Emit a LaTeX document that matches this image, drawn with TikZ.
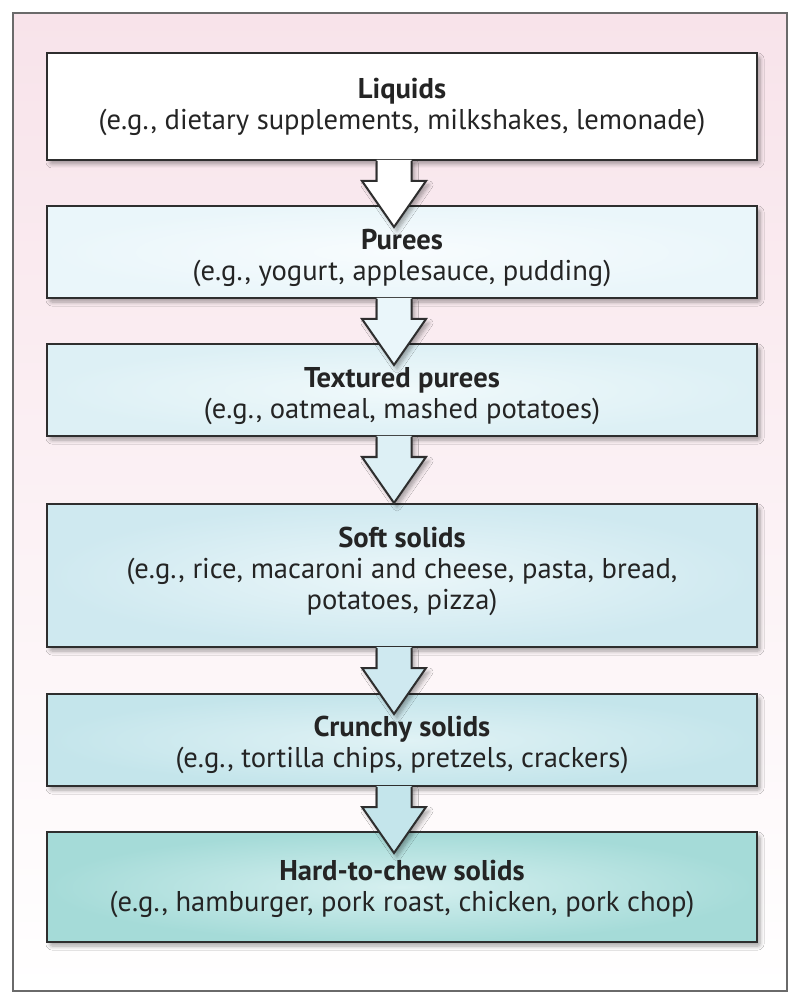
\documentclass[tikz,border=0pt]{standalone}
\usepackage{fontspec}
\setmainfont{PT Sans}
\usetikzlibrary{calc,shadows.blur}

\definecolor{bgpink}{HTML}{F8E3EA}
\definecolor{framegray}{HTML}{6A6A6A}
\definecolor{linegray}{HTML}{2E2E2E}
\definecolor{txt}{HTML}{242424}
\definecolor{lvlAin}{HTML}{FFFFFF}\definecolor{lvlAout}{HTML}{FFFFFF}
\definecolor{lvlBin}{HTML}{F8FCFE}\definecolor{lvlBout}{HTML}{EAF6FA}
\definecolor{lvlCin}{HTML}{F0F9FB}\definecolor{lvlCout}{HTML}{DDF0F5}
\definecolor{lvlDin}{HTML}{EAF6F9}\definecolor{lvlDout}{HTML}{CFE9F0}
\definecolor{lvlEin}{HTML}{E0F2F5}\definecolor{lvlEout}{HTML}{C4E5EB}
\definecolor{lvlFin}{HTML}{D6F0F0}\definecolor{lvlFout}{HTML}{A5DBD8}

\tikzset{
  foodbox/.style={draw=linegray, line width=1pt, minimum width=355pt,
    blur shadow={shadow xshift=1.5pt, shadow yshift=-2pt, shadow blur steps=6,
      shadow blur extra rounding=1pt, shadow opacity=35}},
  foodtext/.style={anchor=north, inner sep=0pt, align=center, text=txt,
    font=\fontsize{14.3}{15.5}\selectfont},
  arrowline/.style={draw=linegray, line width=1pt, line join=miter},
}

\begin{document}
\begin{tikzpicture}[x=0.5pt,y=-0.5pt]
    \useasboundingbox (0,0) rectangle (800,1004);

    \shade[top color=bgpink, bottom color=white] (13,13) rectangle (787,991);
    \draw[framegray, line width=1pt] (13,13) rectangle (787,991);

    \node[foodbox, minimum height=53.5pt, inner color=lvlAin, outer color=lvlAout] (liquids) at (402,106.5) {};
    \node[foodbox, minimum height=46pt, inner color=lvlBin, outer color=lvlBout] (purees) at (402,252) {};
    \node[foodbox, minimum height=46pt, inner color=lvlCin, outer color=lvlCout] (textured) at (402,390) {};
    \node[foodbox, minimum height=71.5pt, inner color=lvlDin, outer color=lvlDout] (soft) at (402,575.5) {};
    \node[foodbox, minimum height=46pt, inner color=lvlEin, outer color=lvlEout] (crunchy) at (402,740) {};
    \node[foodbox, minimum height=55pt, inner color=lvlFin, outer color=lvlFout] (hard) at (402,887) {};

    % block arrows between the levels
    \foreach \from/\col in {liquids/lvlAout, purees/lvlBout, textured/lvlCout, soft/lvlDout, crunchy/lvlEout}
    {
        \coordinate (top) at ($(\from.south)+(-8,0)$);
        \fill[\col, blur shadow={shadow xshift=1.5pt, shadow yshift=-2pt, shadow blur steps=6, shadow opacity=35}]
            ($(top)+(-17.5,-1)$) -- ++(0,21) -- ++(-14.5,0) -- ++(32,46) -- ++(32,-46) -- ++(-14.5,0) -- ++(0,-21) -- cycle;
        \draw[arrowline] ($(top)+(-17.5,0)$) -- ++(0,20) -- ++(-14.5,0) -- ++(32,46) -- ++(32,-46) -- ++(-14.5,0) -- ++(0,-20);
    }

    \node[foodtext] (liquidsText) at ($(liquids.north)+(0,26)$)
        {\textbf{Liquids}\\(e.g., dietary supplements, milkshakes, lemonade)};
    \node[foodtext] (pureesText) at ($(purees.north)+(0,24)$)
        {\textbf{Purees}\\(e.g., yogurt, applesauce, pudding)};
    \node[foodtext] (texturedText) at ($(textured.north)+(0,24)$)
        {\textbf{Textured purees}\\(e.g., oatmeal, mashed potatoes)};
    \node[foodtext] (softText) at ($(soft.north)+(0,24)$)
        {\textbf{Soft solids}\\(e.g., rice, macaroni and cheese, pasta, bread,\\potatoes, pizza)};
    \node[foodtext] (crunchyText) at ($(crunchy.north)+(0,23)$)
        {\textbf{Crunchy solids}\\(e.g., tortilla chips, pretzels, crackers)};
    \node[foodtext] (hardText) at ($(hard.north)+(0,29)$)
        {\textbf{Hard-to-chew solids}\\(e.g., hamburger, pork roast, chicken, pork chop)};
\end{tikzpicture}
\end{document}
